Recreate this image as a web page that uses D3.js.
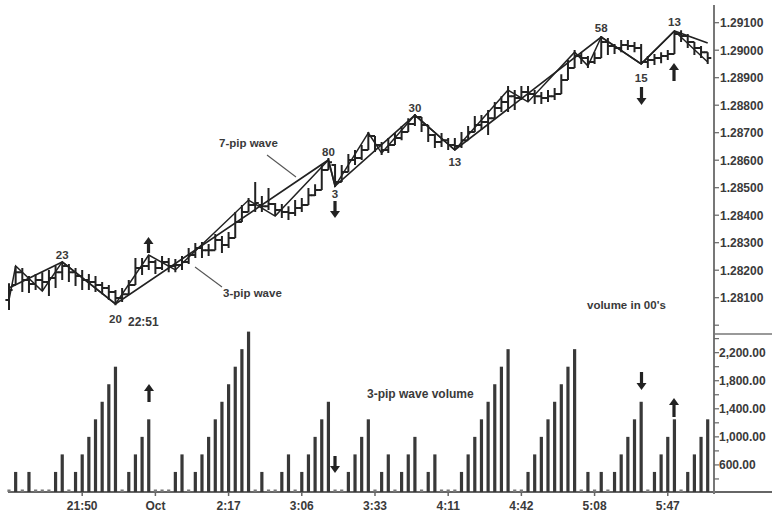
<!DOCTYPE html>
<html><head><meta charset="utf-8">
<script src="https://cdn.jsdelivr.net/npm/d3@7"></script>
<style>
body{margin:0;background:#fff}
svg{display:block}
text{font-family:"Liberation Sans",Arial,sans-serif;font-weight:bold;fill:#3a3a3a}
</style>
</head><body><svg id="c" width="772" height="518"></svg>
<script>
// ---------- data ----------
const openP  = [1.28092,1.28146,1.28193,1.28164,1.28150,1.28164,1.28157,1.28172,1.28193,1.28215,1.28193,1.28179,1.28164,1.28157,1.28146,1.28135,1.28121,1.28099,1.28113,1.28146,1.28208,1.28215,1.28230,1.28208,1.28230,1.28215,1.28219,1.28230,1.28255,1.28281,1.28273,1.28273,1.28310,1.28292,1.28317,1.28375,1.28412,1.28437,1.28437,1.28433,1.28441,1.28419,1.28412,1.28408,1.28426,1.28437,1.28473,1.28492,1.28564,1.28583,1.28521,1.28557,1.28601,1.28608,1.28637,1.28688,1.28655,1.28637,1.28655,1.28681,1.28703,1.28732,1.28757,1.28728,1.28692,1.28666,1.28673,1.28655,1.28652,1.28673,1.28703,1.28728,1.28739,1.28753,1.28790,1.28812,1.28833,1.28826,1.28848,1.28841,1.28833,1.28826,1.28833,1.28841,1.28892,1.28935,1.28979,1.28972,1.28957,1.28972,1.29030,1.29015,1.29008,1.29019,1.29015,1.29008,1.28957,1.28964,1.28972,1.28979,1.28986,1.29059,1.29052,1.29030,1.29008,1.28993];
const highP  = [1.28153,1.28215,1.28208,1.28179,1.28186,1.28193,1.28201,1.28215,1.28230,1.28223,1.28208,1.28201,1.28186,1.28179,1.28157,1.28146,1.28128,1.28135,1.28164,1.28244,1.28244,1.28255,1.28237,1.28252,1.28244,1.28241,1.28252,1.28281,1.28299,1.28303,1.28295,1.28332,1.28324,1.28339,1.28412,1.28437,1.28463,1.28521,1.28470,1.28499,1.28444,1.28441,1.28433,1.28455,1.28463,1.28499,1.28513,1.28583,1.28608,1.28586,1.28583,1.28623,1.28637,1.28655,1.28703,1.28688,1.28666,1.28681,1.28699,1.28724,1.28753,1.28768,1.28757,1.28728,1.28695,1.28699,1.28681,1.28681,1.28703,1.28724,1.28761,1.28764,1.28783,1.28812,1.28833,1.28870,1.28855,1.28870,1.28870,1.28855,1.28848,1.28855,1.28863,1.28913,1.28964,1.29001,1.28993,1.28979,1.28993,1.29052,1.29044,1.29023,1.29037,1.29037,1.29030,1.29023,1.28979,1.28986,1.28993,1.29001,1.29070,1.29073,1.29059,1.29030,1.29015,1.28993];
const lowP   = [1.28055,1.28146,1.28121,1.28117,1.28128,1.28124,1.28106,1.28135,1.28164,1.28157,1.28143,1.28128,1.28128,1.28121,1.28113,1.28092,1.28073,1.28084,1.28110,1.28146,1.28183,1.28201,1.28186,1.28201,1.28193,1.28193,1.28201,1.28223,1.28244,1.28244,1.28252,1.28273,1.28263,1.28281,1.28317,1.28375,1.28412,1.28412,1.28412,1.28419,1.28397,1.28390,1.28383,1.28397,1.28412,1.28437,1.28470,1.28492,1.28564,1.28503,1.28521,1.28557,1.28583,1.28601,1.28637,1.28630,1.28619,1.28626,1.28655,1.28673,1.28703,1.28724,1.28703,1.28666,1.28644,1.28648,1.28637,1.28637,1.28644,1.28673,1.28703,1.28710,1.28692,1.28753,1.28775,1.28775,1.28783,1.28819,1.28812,1.28804,1.28804,1.28812,1.28819,1.28841,1.28892,1.28935,1.28950,1.28935,1.28950,1.28972,1.28983,1.28986,1.28993,1.29001,1.28993,1.28950,1.28935,1.28946,1.28953,1.28964,1.28986,1.29030,1.29008,1.28983,1.28972,1.28950];
const closeP = [1.28128,1.28193,1.28164,1.28150,1.28164,1.28157,1.28172,1.28193,1.28215,1.28193,1.28179,1.28164,1.28157,1.28146,1.28135,1.28121,1.28099,1.28113,1.28146,1.28208,1.28215,1.28230,1.28208,1.28230,1.28215,1.28219,1.28230,1.28255,1.28281,1.28273,1.28273,1.28310,1.28292,1.28317,1.28375,1.28412,1.28437,1.28444,1.28433,1.28441,1.28419,1.28412,1.28408,1.28426,1.28437,1.28473,1.28492,1.28564,1.28593,1.28521,1.28557,1.28601,1.28608,1.28637,1.28688,1.28655,1.28637,1.28655,1.28681,1.28703,1.28732,1.28757,1.28728,1.28692,1.28666,1.28673,1.28655,1.28652,1.28673,1.28703,1.28728,1.28739,1.28753,1.28790,1.28812,1.28833,1.28826,1.28848,1.28841,1.28833,1.28826,1.28833,1.28841,1.28892,1.28935,1.28979,1.28972,1.28957,1.28972,1.29030,1.29015,1.29008,1.29019,1.29015,1.29008,1.28957,1.28964,1.28972,1.28979,1.28986,1.29059,1.29052,1.29030,1.29008,1.28993,1.28972];
const volume = [0,500,0,500,0,0,0,500,750,0,500,750,1000,1250,1500,1750,2000,0,500,750,1000,1250,0,0,0,500,750,0,500,750,1000,1250,1500,1750,2000,2250,2500,0,500,0,0,500,750,0,500,750,1000,1250,1500,0,0,500,750,1000,1250,0,500,750,0,500,750,1000,0,500,750,0,0,0,500,750,1000,1250,1500,1750,2000,2250,0,0,500,750,1000,1250,1500,1750,2000,2250,0,500,0,500,0,500,750,1000,1250,1500,0,500,750,1000,1250,0,500,750,1000,1250];
const wave3 = [[0,1.28092],[1,1.28215],[5,1.28124],[8,1.28230],[16,1.28077],[21,1.28255],[25,1.28201],[36,1.28455],[40,1.28397],[48,1.28601],[49,1.28506],[54,1.28699],[56,1.28626],[61,1.28764],[67,1.28637],[75,1.28855],[78,1.28812],[85,1.28993],[87,1.28943],[89,1.29048],[95,1.28950],[100,1.29070],[105,1.28957]];
const wave7 = [[0,1.28135],[8,1.28230],[16,1.28077],[48,1.28601],[49,1.28506],[61,1.28764],[67,1.28637],[89,1.29048],[95,1.28950],[100,1.29070],[105,1.29026]];
const priceTicks = [1.281,1.282,1.283,1.284,1.285,1.286,1.287,1.288,1.289,1.290,1.291];
const priceMinorTicks = [1.280];
const volLabelTicks = [600,1000,1400,1800,2200];
const volMinorTicks = [400,800,1200,1600,2000,2400];
const timeSlots = [11,22,33,44,55,66,77,88,99];
const timeLabels = ["21:50","Oct","2:17","3:06","3:33","4:11","4:42","5:08","5:47"];
const waveLabels = [
  {t:"23",slot:8,p:1.28230,dy:-3},{t:"20",slot:16,p:1.28077,dy:19},
  {t:"80",slot:48,p:1.28601,dy:-4},{t:"3",slot:49,p:1.28506,dy:12},
  {t:"30",slot:61,p:1.28764,dy:-3},{t:"13",slot:67,p:1.28637,dy:16},
  {t:"58",slot:89,p:1.29048,dy:-5},{t:"15",slot:95,p:1.28950,dy:18},
  {t:"13",slot:100,p:1.29070,dy:-5}
];

// ---------- layout ----------
const svg = d3.select("#c");
const axisX = 714;
const x = d3.scaleLinear().domain([0,105]).range([9,707.7]);
const yP = d3.scaleLinear().domain([1.280,1.291]).range([325.2,22.7]);
const yV = d3.scaleLinear().domain([214,2600]).range([492,324.6]);
const base = yV(214);
const ink = "#222";

// ---------- volume pane ----------
svg.append("line").attr("x1",8).attr("x2",772).attr("y1",base).attr("y2",base)
  .attr("stroke","#666").attr("stroke-width",2);
svg.append("g").selectAll("rect").data(volume.map((v,i)=>({v,i}))).join("rect")
  .attr("x",d=>x(d.i)-1.6).attr("width",3.2)
  .attr("y",d=>d.v>0?yV(d.v):base-2.5)
  .attr("height",d=>d.v>0?base-yV(d.v):2.5)
  .attr("fill",d=>d.v>0?"#383838":"#777");
// x ticks
svg.append("g").selectAll("line").data(timeSlots).join("line")
  .attr("x1",d=>x(d)).attr("x2",d=>x(d)).attr("y1",base).attr("y2",base+4)
  .attr("stroke","#666").attr("stroke-width",1.5);
svg.append("g").selectAll("text").data(timeSlots).join("text")
  .attr("x",d=>x(d)).attr("y",510).attr("text-anchor","middle")
  .attr("font-size",12).text((d,i)=>timeLabels[i]);

// ---------- right axis ----------
svg.append("line").attr("x1",axisX).attr("x2",axisX).attr("y1",5).attr("y2",base+2)
  .attr("stroke","#777").attr("stroke-width",2);
svg.append("line").attr("x1",axisX).attr("x2",772).attr("y1",334).attr("y2",334)
  .attr("stroke","#777").attr("stroke-width",1.5);
const tick = (g,arr,sc)=>g.selectAll("line").data(arr).join("line")
  .attr("x1",axisX).attr("x2",axisX+5).attr("y1",d=>sc(d)).attr("y2",d=>sc(d))
  .attr("stroke","#666").attr("stroke-width",1.2);
tick(svg.append("g"),priceTicks.concat(priceMinorTicks),yP);
svg.append("g").selectAll("text").data(priceTicks).join("text")
  .attr("x",axisX+6).attr("y",d=>yP(d)).attr("dy","0.36em").attr("font-size",12)
  .text(d=>d3.format(".5f")(d));
tick(svg.append("g"),volLabelTicks.concat(volMinorTicks),yV);
svg.append("g").selectAll("text").data(volLabelTicks).join("text")
  .attr("x",axisX+5).attr("y",d=>yV(d)).attr("dy","0.36em").attr("font-size",12)
  .text(d=>d3.format(",.2f")(d));

// ---------- waves ----------
const wl = d3.line().x(d=>x(d[0])).y(d=>yP(d[1]));
svg.append("path").attr("d",wl(wave7)).attr("fill","none").attr("stroke",ink).attr("stroke-width",1.7);
svg.append("path").attr("d",wl(wave3)).attr("fill","none").attr("stroke",ink).attr("stroke-width",1.5);

// ---------- price bars ----------
const bars = svg.append("g").attr("stroke",ink).attr("stroke-width",2).attr("fill","none");
bars.selectAll("path").data(closeP.map((c,i)=>i)).join("path")
  .attr("d",i=>{
    const cx=x(i);
    return `M${cx},${yP(highP[i])}V${yP(lowP[i])}M${cx-3.6},${yP(openP[i])}H${cx}M${cx},${yP(closeP[i])}H${cx+3.6}`;
  });

// ---------- annotations ----------
svg.append("g").selectAll("text").data(waveLabels).join("text")
  .attr("x",d=>x(d.slot)).attr("y",d=>yP(d.p)+d.dy).attr("text-anchor","middle")
  .attr("font-size",11.5).text(d=>d.t);
const note=(t,xx,yy,fs)=>svg.append("text").attr("x",xx).attr("y",yy).attr("font-size",fs).text(t);
note("22:51",128,326,12);
note("7-pip wave",219,147,11.5);
note("3-pip wave",223,297,11.5);
note("volume in 00's",587,309,11.5);
note("3-pip wave volume",367,398,12);
const ptr=(x1,y1,x2,y2)=>svg.append("line").attr("x1",x1).attr("y1",y1).attr("x2",x2).attr("y2",y2)
  .attr("stroke","#555").attr("stroke-width",1.1);
ptr(267,155,296,177);
ptr(195,267,222,287);

function arrow(cx,y1,y2,up){
  const g=svg.append("g").attr("fill",ink);
  const hh=7, hw=5;
  if(up){
    g.append("path").attr("d",`M${cx},${y1}L${cx+hw},${y1+hh}L${cx-hw},${y1+hh}Z`);
    g.append("rect").attr("x",cx-1.6).attr("y",y1+hh-1).attr("width",3.2).attr("height",y2-y1-hh+1);
  } else {
    g.append("path").attr("d",`M${cx},${y2}L${cx+hw},${y2-hh}L${cx-hw},${y2-hh}Z`);
    g.append("rect").attr("x",cx-1.6).attr("y",y1).attr("width",3.2).attr("height",y2-y1-hh+1);
  }
}
arrow(148.5,237,253,true);
arrow(149,384,402,true);
arrow(335,201,218,false);
arrow(335,456,473,false);
arrow(641.5,87,105,false);
arrow(641.5,372,390,false);
arrow(674,63,81,true);
arrow(674,398,417,true);
</script>
</body></html>
